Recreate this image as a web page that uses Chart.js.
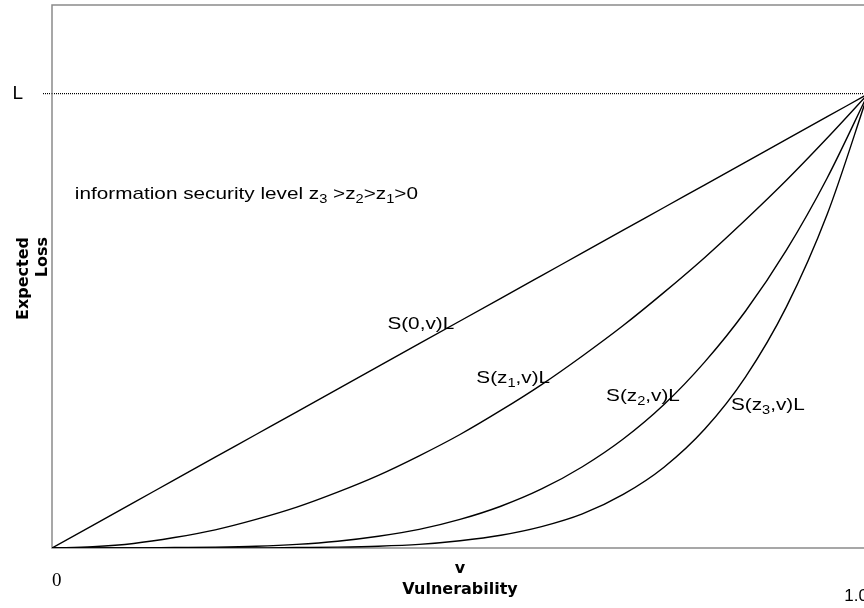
<!DOCTYPE html>
<html>
<head>
<meta charset="utf-8">
<script src="https://cdn.jsdelivr.net/npm/chart.js@4.4.1/dist/chart.umd.min.js"></script>
<style>
    html, body { margin: 0; padding: 0; background: #fff; overflow: hidden; }
    #wrap { width: 864px; height: 608px; overflow: hidden; }
    #box { width: 872px; height: 608px; position: relative; }
</style>
</head>
<body>
<div id="wrap"><div id="box"><canvas id="lossChart"></canvas></div></div>
<script>
// Vulnerability v (x axis) and expected loss as a share of L (y axis)
const vulnerability = [0, 0.05, 0.1, 0.15, 0.2, 0.25, 0.3, 0.35, 0.4, 0.45, 0.5, 0.55, 0.6, 0.65, 0.7, 0.75, 0.8, 0.85, 0.9, 0.95, 1];
const lossNoSecurity = [0, 0.05, 0.1, 0.15, 0.2, 0.25, 0.3, 0.35, 0.4, 0.45, 0.5, 0.55, 0.6, 0.65, 0.7, 0.75, 0.8, 0.85, 0.9, 0.95, 1];
const lossZ1 = [0, 0.003, 0.010, 0.023, 0.040, 0.063, 0.090, 0.123, 0.160, 0.203, 0.250, 0.303, 0.360, 0.423, 0.490, 0.563, 0.640, 0.723, 0.810, 0.903, 1];
const lossZ2 = [0, 0, 0, 0.001, 0.002, 0.004, 0.008, 0.015, 0.026, 0.041, 0.063, 0.092, 0.130, 0.179, 0.240, 0.316, 0.410, 0.522, 0.656, 0.815, 1];
const lossZ3 = [0, 0, 0, 0, 0, 0, 0.001, 0.002, 0.004, 0.008, 0.016, 0.028, 0.047, 0.075, 0.118, 0.178, 0.262, 0.377, 0.531, 0.735, 1];

const xTicks = [0, 1];
const xTickLabels = ['0', ['', '1.0']];
const yTicks = [1];
const yTickLabels = ['L'];

// text pieces: [text, isSubscript]
const infoText = [['information security level z', 0], ['3', 1], [' >z', 0], ['2', 1], ['>z', 0], ['1', 1], ['>0', 0]];
const curveLabels = [
    [['S(0,v)L', 0]],
    [['S(z', 0], ['1', 1], [',v)L', 0]],
    [['S(z', 0], ['2', 1], [',v)L', 0]],
    [['S(z', 0], ['3', 1], [',v)L', 0]]
];

function toPoints(ys) {
    return vulnerability.map((v, i) => ({ x: v, y: ys[i] }));
}

function drawRich(ctx, x, y, parts, size) {
    ctx.save();
    ctx.translate(x, y);
    ctx.scale(1.22, 1);
    ctx.fillStyle = '#000';
    ctx.textBaseline = 'alphabetic';
    ctx.textAlign = 'left';
    let cx = 0;
    parts.forEach(([t, sub]) => {
        const s = sub ? Math.round(size * 0.68) : size;
        ctx.font = s + 'px "Liberation Sans", Arial, sans-serif';
        ctx.fillText(t, cx, sub ? 4 : 0);
        cx += ctx.measureText(t).width;
    });
    ctx.restore();
}

function noPadding(s) {
    s.paddingTop = 0;
    s.paddingBottom = 0;
    s.paddingLeft = 0;
    s.paddingRight = 0;
}

const framePlugin = {
    id: 'frame',
    beforeDatasetsDraw(chart) {
        const { ctx, chartArea: a } = chart;
        ctx.save();
        ctx.strokeStyle = '#8a8a8a';
        ctx.lineWidth = 1.5;
        ctx.strokeRect(a.left, a.top, a.right - a.left, a.bottom - a.top);
        ctx.restore();
    }
};

const textPlugin = {
    id: 'sketchText',
    afterDraw(chart) {
        const ctx = chart.ctx;
        const xs = chart.scales.x, ys = chart.scales.y;
        const at = (v, l) => [xs.getPixelForValue(v), ys.getPixelForValue(l)];

        drawRich(ctx, ...at(0.028, 0.769), infoText, 17);
        const spots = [[0.411, 0.482], [0.520, 0.363], [0.679, 0.324], [0.832, 0.304]];
        curveLabels.forEach((parts, i) => drawRich(ctx, ...at(spots[i][0], spots[i][1]), parts, 17));

        // y axis title, two lines aligned at their ends
        ctx.save();
        ctx.fillStyle = '#000';
        ctx.font = 'bold 16px "DejaVu Sans", sans-serif';
        ctx.textAlign = 'right';
        ctx.textBaseline = 'alphabetic';
        [['Expected', 28], ['Loss', 47]].forEach(([t, bx]) => {
            ctx.save();
            ctx.translate(bx, 237);
            ctx.rotate(-Math.PI / 2);
            ctx.fillText(t, 0, 0);
            ctx.restore();
        });
        ctx.restore();
    }
};

const lineStyle = {
    borderColor: '#000',
    borderWidth: 1.4,
    pointRadius: 0,
    fill: false,
    cubicInterpolationMode: 'monotone'
};

new Chart(document.getElementById('lossChart').getContext('2d'), {
    type: 'line',
    data: {
        datasets: [
            { label: 'S(0,v)L', data: toPoints(lossNoSecurity), ...lineStyle },
            { label: 'S(z1,v)L', data: toPoints(lossZ1), ...lineStyle },
            { label: 'S(z2,v)L', data: toPoints(lossZ2), ...lineStyle },
            { label: 'S(z3,v)L', data: toPoints(lossZ3), ...lineStyle }
        ]
    },
    options: {
        responsive: true,
        maintainAspectRatio: false,
        animation: false,
        layout: { padding: { top: 5, right: 4, bottom: 0, left: 0 } },
        plugins: {
            legend: { display: false },
            tooltip: { enabled: false }
        },
        scales: {
            x: {
                type: 'linear',
                min: 0,
                max: 1,
                afterBuildTicks: (s) => { s.ticks = xTicks.map(v => ({ value: v })); },
                afterFit: (s) => { s.height = 60; noPadding(s); },
                grid: { display: false },
                border: { display: false },
                ticks: {
                    align: 'inner',
                    padding: 14,
                    color: '#000',
                    maxRotation: 0,
                    autoSkip: false,
                    font: (c) => c.index === 0
                        ? { family: '"Liberation Serif", "Times New Roman", serif', size: 19, lineHeight: 1.2 }
                        : { family: '"Liberation Sans", Arial, sans-serif', size: 17, lineHeight: 1.04 },
                    callback: (v, i) => xTickLabels[i]
                },
                title: {
                    display: true,
                    text: ['v', 'Vulnerability'],
                    color: '#000',
                    font: { family: '"DejaVu Sans", sans-serif', size: 16, weight: 'bold', lineHeight: 1.3 },
                    padding: { top: 0, bottom: 8 }
                }
            },
            y: {
                type: 'linear',
                min: 0,
                max: 1.196,
                afterBuildTicks: (s) => { s.ticks = yTicks.map(v => ({ value: v })); },
                afterFit: (s) => { s.width = 52; noPadding(s); },
                grid: {
                    color: '#000',
                    lineWidth: 1.2,
                    tickLength: 9,
                    tickBorderDash: [1, 1]
                },
                border: { display: false, dash: [1, 1] },
                ticks: {
                    padding: 20,
                    color: '#000',
                    font: { family: '"Liberation Sans", Arial, sans-serif', size: 19 },
                    callback: (v, i) => yTickLabels[i]
                }
            }
        }
    },
    plugins: [framePlugin, textPlugin]
});
</script>
</body>
</html>
